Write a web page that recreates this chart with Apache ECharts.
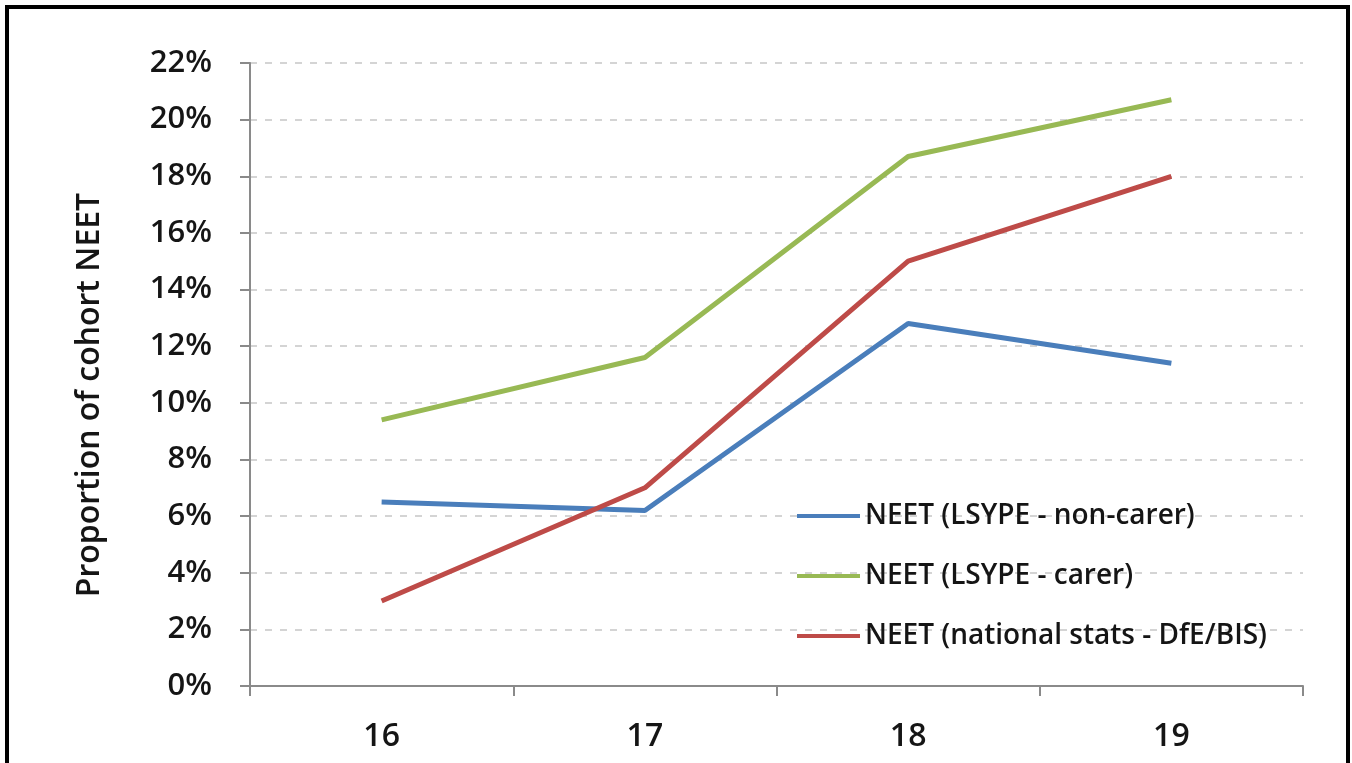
<!DOCTYPE html>
<html>
<head>
<meta charset="utf-8">
<script src="https://cdn.jsdelivr.net/npm/echarts@6/dist/echarts.min.js"></script>
<style>
    html, body {
        margin: 0;
        padding: 0;
        background: #fff;
    }
    #frame {
        position: absolute;
        left: 5px;
        top: 5px;
        width: 1337px;
        height: 800px;
        border: 4px solid #000;
    }
    #chart {
        position: absolute;
        left: 0;
        top: 0;
        width: 1352px;
        height: 763px;
    }
</style>
</head>
<body>
<div id="frame"></div>
<div id="chart"></div>
<script>
// 年龄
const ages = ['16', '17', '18', '19'];
// 各系列数值（%）
const nonCarer = [6.5, 6.2, 12.8, 11.4];
const carer = [9.4, 11.6, 18.7, 20.7];
const national = [3.0, 7.0, 15.0, 18.0];
const seriesNames = ['NEET (LSYPE - non-carer)', 'NEET (LSYPE - carer)', 'NEET (national stats - DfE/BIS)'];
const colors = ['#4A7EBB', '#98B954', '#BE4B48'];

const font = '"Open Sans", sans-serif';
const weight = 600;

const makeLine = (name, data, color) => ({
    name: name,
    type: 'line',
    data: data,
    symbol: 'none',
    lineStyle: { color: color, width: 5 },
    itemStyle: { color: color }
});

const chart = echarts.init(document.getElementById('chart'));
chart.setOption({
    animation: false,
    textStyle: { fontFamily: font },
    grid: { left: 250, right: 49, top: 63, bottom: 77 },
    legend: {
        orient: 'vertical',
        left: 792,
        top: 497,
        icon: 'rect',
        itemWidth: 63,
        itemHeight: 4,
        itemGap: 32,
        data: seriesNames,
        textStyle: { fontFamily: font, fontSize: 28, fontWeight: weight, color: '#151515' }
    },
    // 纵轴标题
    graphic: [{
        type: 'text',
        x: 90,
        y: 395,
        rotation: Math.PI / 2,
        style: {
            text: 'Proportion of cohort NEET',
            fontFamily: font,
            fontSize: 32,
            fontWeight: weight,
            fill: '#151515',
            align: 'center',
            verticalAlign: 'middle'
        }
    }],
    xAxis: {
        type: 'category',
        data: ages,
        boundaryGap: true,
        axisLine: { lineStyle: { color: '#8a8a8a', width: 2 } },
        axisTick: { show: true, length: 10, lineStyle: { color: '#8a8a8a', width: 2 } },
        axisLabel: { fontSize: 32, fontWeight: weight, color: '#151515', margin: 35, fontFamily: font }
    },
    yAxis: {
        type: 'value',
        min: 0,
        max: 22,
        interval: 2,
        axisLine: { show: true, lineStyle: { color: '#8a8a8a', width: 2 } },
        axisTick: { show: true, length: 10, lineStyle: { color: '#8a8a8a', width: 2 } },
        axisLabel: { fontSize: 31, fontWeight: weight, color: '#151515', margin: 38, formatter: '{value}%', fontFamily: font },
        splitLine: { lineStyle: { color: '#d4d4d4', type: [7, 8], width: 2 } }
    },
    series: [
        makeLine(seriesNames[0], nonCarer, colors[0]),
        makeLine(seriesNames[1], carer, colors[1]),
        makeLine(seriesNames[2], national, colors[2])
    ]
});
</script>
</body>
</html>
